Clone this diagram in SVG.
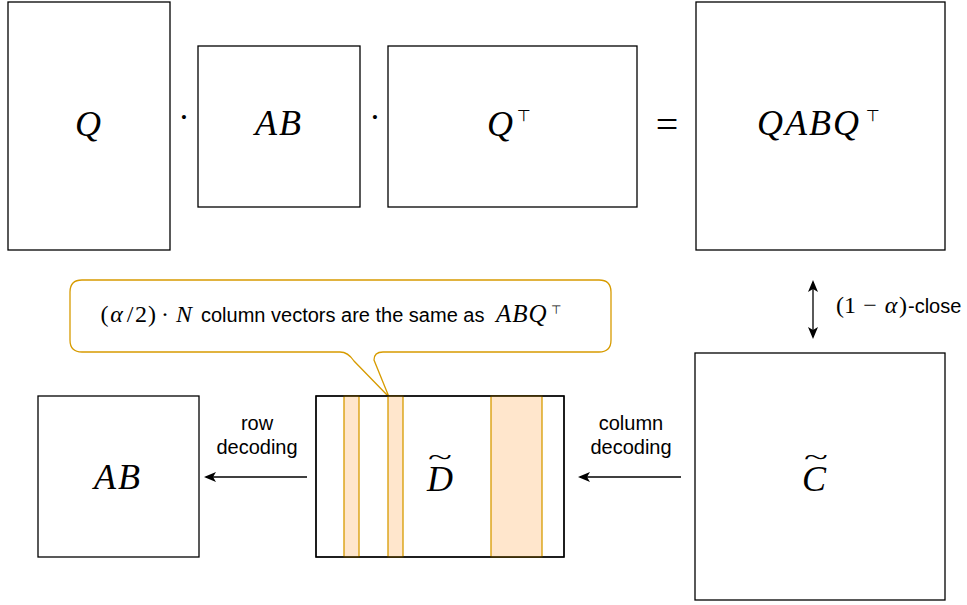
<svg xmlns="http://www.w3.org/2000/svg" width="967" height="605" viewBox="0 0 967 605">
<defs>
<style>
.box{fill:#fff;stroke:#000;stroke-width:1.3}
.stripe{fill:#ffe6cc;stroke:#d79b00;stroke-width:1.3}
.callout{fill:#fff;stroke:#d79b00;stroke-width:1.3}
.math{font-family:"Liberation Serif","Times New Roman",serif;font-style:italic;fill:#000}
.up{font-style:normal}
.mid{text-anchor:middle}
.sans{font-family:"Liberation Sans",Arial,sans-serif;font-size:20px;fill:#000}
.tack{font-family:"DejaVu Sans",sans-serif;font-style:normal;fill:#000}
.conn{fill:none;stroke:#000;stroke-width:1.3}
</style>
<marker id="arr" viewBox="0 0 12 10" refX="10" refY="5" markerWidth="12" markerHeight="10" markerUnits="userSpaceOnUse" orient="auto-start-reverse">
<path d="M0,0 L12,5 L0,10 L3,5 Z" fill="#000"/>
</marker>
</defs>
<rect width="967" height="605" fill="#fff"/>

<g id="node-Q">
<rect class="box" x="8" y="2" width="162" height="248"/>
<text class="math" x="88" y="136" font-size="36" text-anchor="middle">Q</text>
</g>
<g id="op-dot1"><text class="math up" x="184" y="128" font-size="34" text-anchor="middle">·</text></g>
<g id="node-AB-top">
<rect class="box" x="198" y="46" width="162" height="161"/>
<text class="math" x="255" y="135" font-size="36" letter-spacing="2">AB</text>
</g>
<g id="op-dot2"><text class="math up" x="375" y="128" font-size="34" text-anchor="middle">·</text></g>
<g id="node-QT">
<rect class="box" x="388" y="46" width="249" height="161"/>
<text class="math" x="487" y="136" font-size="36">Q</text>
<text class="tack" x="517" y="121" font-size="16">⊤</text>
</g>
<g id="op-eq"><text class="math up" x="667" y="138" font-size="40" text-anchor="middle">=</text></g>
<g id="node-QABQT">
<rect class="box" x="696" y="2" width="249" height="248"/>
<text class="math" x="757" y="135" font-size="36" letter-spacing="2">QABQ</text>
<text class="tack" x="866" y="121" font-size="16">⊤</text>
</g>

<g id="node-callout">
<path class="callout" d="M82,280 H599 Q611,280 611,292 V340 Q611,352 599,352 H383 Q374,352 374,360 L389,397 L354,361 Q348,352 340,352 H82 Q70,352 70,340 V292 Q70,280 82,280 Z"/>
<text class="math" y="322" font-size="24"><tspan class="up mid" x="104.5">(</tspan><tspan class="mid" x="116.5">α</tspan><tspan class="up mid" x="130">/</tspan><tspan class="up mid" x="141">2</tspan><tspan class="up mid" x="152">)</tspan><tspan class="up mid" x="165">·</tspan><tspan class="mid" x="184">N</tspan></text>
<text class="sans" x="201" y="322">column vectors are the same as</text>
<text class="math" x="496" y="322" font-size="25" letter-spacing="1">ABQ</text>
<text class="tack" x="551" y="314" font-size="12">⊤</text>
</g>

<g id="node-AB-bottom">
<rect class="box" x="38" y="396" width="161" height="161"/>
<text class="math" x="94" y="489" font-size="36" letter-spacing="2">AB</text>
</g>

<g id="node-D">
<rect class="box" x="316" y="396" width="248" height="161"/>
<rect class="stripe" x="344" y="396" width="15" height="161"/>
<rect class="stripe" x="388" y="396" width="15" height="161"/>
<rect class="stripe" x="491" y="396" width="51" height="161"/>
<rect x="316" y="396" width="248" height="161" fill="none" stroke="#000" stroke-width="1.3"/>
<text class="math" x="427" y="491" font-size="36">D</text>
<text class="math up" x="440" y="465" font-size="34" text-anchor="middle" transform="translate(440 465) scale(1.3 0.75) translate(-440 -465)">~</text>
</g>

<g id="node-C">
<rect class="box" x="695" y="353" width="250" height="247"/>
<text class="math" x="802" y="491" font-size="36">C</text>
<text class="math up" x="816" y="465" font-size="34" text-anchor="middle" transform="translate(816 465) scale(1.3 0.75) translate(-816 -465)">~</text>
</g>

<g id="connectors">
<line class="conn" x1="307" y1="477" x2="206" y2="477" marker-end="url(#arr)"/>
<line class="conn" x1="681" y1="477" x2="580" y2="477" marker-end="url(#arr)"/>
<line class="conn" x1="813" y1="282" x2="813" y2="337" marker-start="url(#arr)" marker-end="url(#arr)"/>
</g>

<g id="labels">
<text class="sans" x="257" y="430" text-anchor="middle">row</text>
<text class="sans" x="257" y="454" text-anchor="middle">decoding</text>
<text class="sans" x="631" y="430" text-anchor="middle">column</text>
<text class="sans" x="631" y="454" text-anchor="middle">decoding</text>
<text class="math" y="313" font-size="24"><tspan class="up mid" x="840">(</tspan><tspan class="up mid" x="850">1</tspan><tspan class="up mid" x="870">−</tspan><tspan class="mid" x="891">α</tspan><tspan class="up mid" x="903">)</tspan></text>
<text class="sans" x="908" y="313">-close</text>
</g>
</svg>
